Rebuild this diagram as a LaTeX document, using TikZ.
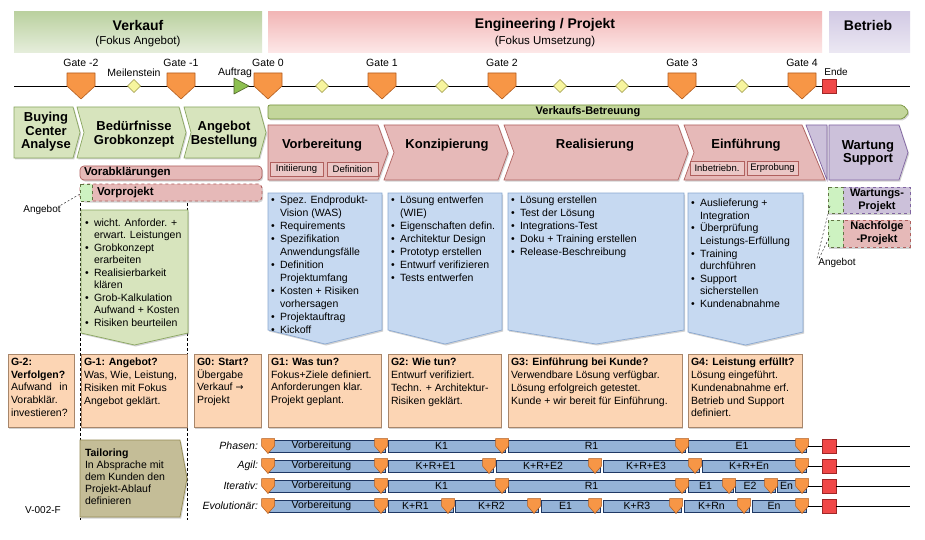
\documentclass[tikz,border=0pt]{standalone}
\usepackage{fontspec}
\setmainfont{Liberation Sans}
\newfontfamily\djv{DejaVu Sans}
\usetikzlibrary{shadows}
\definecolor{hgA}{HTML}{BBD1A0}
\definecolor{hgB}{HTML}{E6EEDC}
\definecolor{hpA}{HTML}{F2B6B6}
\definecolor{hpB}{HTML}{FDE8E8}
\definecolor{hlA}{HTML}{D2CAE4}
\definecolor{hlB}{HTML}{ECE8F3}
\definecolor{grnfill}{HTML}{D7E4BD}
\definecolor{grnline}{HTML}{8AA660}
\definecolor{pinkfill}{HTML}{E6B9B8}
\definecolor{pinkline}{HTML}{B0605E}
\definecolor{bluefill}{HTML}{C6D9F1}
\definecolor{blueline}{HTML}{8AA8D0}
\definecolor{orgfill}{HTML}{FCD5B4}
\definecolor{orgline}{HTML}{A8866A}
\definecolor{lavfill}{HTML}{CCC1DA}
\definecolor{lavline}{HTML}{8064A2}
\definecolor{khaki}{HTML}{C4BD97}
\definecolor{khakiline}{HTML}{948A54}
\definecolor{gatec}{HTML}{F79646}
\definecolor{gateline}{HTML}{B35D1E}
\definecolor{barfill}{HTML}{95B3D7}
\definecolor{barline}{HTML}{1F3864}
\definecolor{vbgreen}{HTML}{C3D69B}
\definecolor{vbline}{HTML}{76923C}
\definecolor{msfill}{HTML}{F7F59E}
\definecolor{msline}{HTML}{9A9645}
\definecolor{endred}{HTML}{F04848}
\definecolor{endline}{HTML}{A02828}
\definecolor{auftrg}{HTML}{8DC050}
\definecolor{auftrl}{HTML}{4F6228}
\newcommand\bu{\makebox[9pt][l]{\textbullet}}
\newcommand\bi{\hspace*{9pt}}
\newcommand\fs[2]{\fontsize{#1}{#2}\selectfont}
\newcommand\lmark[2]{\draw[lmk] (#1-6.5,#2-1.5) -- (#1+6.5,#2-1.5) -- (#1+6.5,#2+6) -- (#1,#2+13.5) -- (#1-6.5,#2+6) -- cycle;}
\newcommand\lane[5]{%
  \node[lanelbl] (#5) at (258,#1+6) {#2};
  \foreach \a/\b/\t [count=\i] in {#3} {
    \path[lanebar] (\a,#1) rectangle (\b,#1+12);
    \node[lanetxt] (#5b\i) at ({(\a+\b-10)/2},#1+6) {\t};
  }
  \foreach \m in {#4} {\lmark{\m}{#1}}
  \coordinate (#5e1) at (808,#1+6);
  \coordinate (#5e2) at (910,#1+6);
  \node[endsq, minimum width=14pt, minimum height=14pt] (#5end) at (829,#1+6) {};
  \draw[line width=0.5pt] (#5e1) -- (#5end.west);
  \draw[line width=0.5pt] (#5end.east) -- (#5e2);
}
\begin{document}
\begin{tikzpicture}[x=1pt,y=-1pt,
  every node/.style={inner sep=0pt,outer sep=0pt},
  hdr/.style={font=\fs{14}{16}\bfseries},
  hdrsub/.style={font=\fs{11.5}{13}},
  gatelbl/.style={font=\fs{10.5}{12}},
  gateshape/.style={fill=gatec, draw=gateline, line width=0.6pt, line join=round},
  msshape/.style={fill=msfill, draw=msline, line width=0.5pt},
  shad/.style={drop shadow={shadow xshift=1.2pt,shadow yshift=-1.5pt,opacity=.35}},
  grnchev/.style={fill=grnfill, draw=grnline, line width=0.7pt, shad},
  pinkchev/.style={fill=pinkfill, draw=pinkline, line width=0.7pt, shad},
  lavchev/.style={fill=lavfill, draw=lavline, line width=0.7pt, shad},
  phtitle/.style={font=\fs{13}{13.5}\bfseries, align=center},
  subbox/.style={fill=pinkfill!80!white, draw=pinkline, line width=0.6pt, font=\fs{9.5}{11}},
  bluebox/.style={fill=bluefill, draw=blueline, line width=0.7pt, shad},
  greenbox/.style={fill=grnfill, draw=grnline, line width=0.7pt, shad},
  btxt/.style={anchor=north west, align=left, font=\fs{10.5}{13}},
  gbox/.style={fill=orgfill, draw=orgline, line width=0.6pt, shad},
  gtxt/.style={anchor=north west, align=left, font=\fs{10.5}{12.8}},
  lanebar/.style={fill=barfill, draw=barline, line width=0.6pt, drop shadow={shadow xshift=1.2pt,shadow yshift=-1.2pt,opacity=.85,fill=barline}},
  lanetxt/.style={font=\fs{10.5}{12}},
  lanelbl/.style={anchor=east, font=\fs{10.5}{12}\itshape},
  lmk/.style={fill=gatec, draw=gateline, line width=0.5pt, line join=round},
  endsq/.style={fill=endred, draw=endline, line width=0.6pt},
  vdash/.style={dashed, line width=0.5pt, dash pattern=on 3pt off 2pt},
]
\useasboundingbox (0,0) rectangle (925,540);
\fill[white] (0,0) rectangle (925,540);

% ---------- header bands
\shade[top color=hgA, bottom color=hgB] (14,12) rectangle (262,53);
\shade[top color=hpA, bottom color=hpB] (268,12) rectangle (822,53);
\shade[top color=hlA, bottom color=hlB] (829,12) rectangle (910,53);
\node[hdr] (verkauf) at (138,25) {Verkauf};
\node[hdrsub] (verkaufsub) at (138,42) {(Fokus Angebot)};
\node[hdr] (eng) at (545,25) {Engineering / Projekt};
\node[hdrsub] (engsub) at (545,42) {(Fokus Umsetzung)};
\node[hdr] (betrieb) at (868,25) {Betrieb};

% ---------- timeline
\coordinate (tl0) at (14,86);
\coordinate (tl1) at (910,86);
\draw[line width=0.6pt] (tl0) -- (tl1);
\foreach \x in {134,322,442,560,622,742} {
  \draw[msshape] (\x-6.5,86) -- (\x,79.5) -- (\x+6.5,86) -- (\x,92.5) -- cycle;
}
\node[gatelbl] (meil) at (134,73) {Meilenstein};
\draw[fill=auftrg, draw=auftrl, line width=0.6pt, line join=round] (234,78) -- (249,86) -- (234,94) -- cycle;
\node[gatelbl] (auftrag) at (235,73) {Auftrag};
\foreach \x/\t/\n in {81/Gate -2/gm2, 181/Gate -1/gm1, 268/Gate 0/g0, 382/Gate 1/g1, 502/Gate 2/g2, 682/Gate 3/g3, 802/Gate 4/g4} {
  \draw[gateshape] (\x-14,73) -- (\x+14,73) -- (\x+14,86) -- (\x,99) -- (\x-14,86) -- cycle;
  \node[gatelbl] (\n) at (\x,63) {\t};
}
\draw[endsq] (822,79) rectangle (836,93);
\node[gatelbl, font=\fs{10}{12}] (ende) at (836,72) {Ende};

% ---------- vertical dashed lines
\draw[vdash] (80,203) -- (80,520);
\draw[vdash] (187,203) -- (187,520);

% ---------- sales phases (green chevrons)
\path[grnchev] (14,107) -- (73,107) -- (80,132.5) -- (73,158) -- (14,158) -- cycle;
\path[grnchev] (77,107) -- (179,107) -- (186,132.5) -- (179,158) -- (77,158) -- (84,132.5) -- cycle;
\path[grnchev] (184,107) -- (259,107) -- (266,132.5) -- (259,158) -- (184,158) -- (191,132.5) -- cycle;
\node[phtitle] (buying) at (46,132) {Buying\\Center\\Analyse};
\node[phtitle] (beduerf) at (134,134) {Bedürfnisse\\Grobkonzept};
\node[phtitle] (angebot) at (224,134) {Angebot\\Bestellung};

% ---------- Verkaufs-Betreuung
\path[fill=vbgreen, draw=vbline, line width=0.7pt, rounded corners=2pt, shad] (268,105) -- (903,105) -- (909,112) -- (903,119) -- (268,119) -- cycle;
\node[font=\fs{11}{12}\bfseries] (vb) at (588,112) {Verkaufs-Betreuung};

% ---------- project phases
\path[pinkchev] (268,125) -- (378,125) -- (388,152.5) -- (378,180) -- (268,180) -- cycle;
\path[pinkchev] (384,125) -- (498,125) -- (508,152.5) -- (498,180) -- (384,180) -- (394,152.5) -- cycle;
\path[pinkchev] (504,125) -- (678,125) -- (688,152.5) -- (678,180) -- (504,180) -- (514,152.5) -- cycle;
\path[pinkchev] (684,125) -- (802,125) -- (825,180) -- (684,180) -- (694,152.5) -- cycle;
\path[lavchev] (806,125) -- (827,125) -- (827,180) -- cycle;
\path[lavchev] (829,125) -- (899,125) -- (908,152.5) -- (899,180) -- (829,180) -- cycle;
\node[phtitle] (vorb) at (322,145) {Vorbereitung};
\node[phtitle] (konz) at (447,145) {Konzipierung};
\node[phtitle] (real) at (595,145) {Realisierung};
\node[phtitle] (einf) at (746,145) {Einführung};
\node[phtitle] (wart) at (868,153) {Wartung\\Support};
\node[subbox, minimum width=53pt, minimum height=14pt] (init) at (296.5,169) {Initiierung};
\node[subbox, minimum width=51pt, minimum height=14pt] (defi) at (352.5,169) {Definition};
\node[subbox, minimum width=54pt, minimum height=14pt] (inbe) at (717,168) {Inbetriebn.};
\node[subbox, minimum width=51pt, minimum height=14pt] (erpr) at (772.5,168) {Erprobung};

% ---------- Vorabklaerungen / Vorprojekt
\path[fill=pinkfill, draw=pinkline, line width=0.7pt, rounded corners=4pt, shad] (80,166) rectangle (262,180);
\node[anchor=west, font=\fs{11.5}{12}\bfseries] (vorab) at (84,173) {Vorabklärungen};
\path[fill=pinkfill, draw=pinkline, line width=0.9pt, dashed, rounded corners=4pt, shad] (80,184) rectangle (262,201);
\path[fill=grnfill!80!green!60!white, draw=grnline!70!black, line width=0.9pt, dashed] (80,184) rectangle (92,201);
\node[anchor=west, font=\fs{11.5}{12}\bfseries] (vorproj) at (97,192.5) {Vorprojekt};
\node[font=\fs{10}{12}] (angl) at (42,210) {Angebot};
\coordinate (anglc) at (80,194);
\draw[dashed, line width=0.4pt, dash pattern=on 2pt off 2pt] (angl.north east) -- (anglc);

% ---------- Wartungs-/Nachfolge-Projekt
\path[fill=lavfill, draw=lavline, line width=0.9pt, dashed, shad] (828,187) rectangle (910,213);
\path[fill=grnfill!80!green!60!white, draw=grnline!70!black, line width=0.9pt, dashed] (828,187) rectangle (843,213);
\node[font=\fs{11}{13}\bfseries, align=center] (wproj) at (877,200) {Wartungs-\\Projekt};
\path[fill=pinkfill, draw=pinkline, line width=0.9pt, dashed, shad] (828,220) rectangle (910,247);
\path[fill=grnfill!80!green!60!white, draw=grnline!70!black, line width=0.9pt, dashed] (828,220) rectangle (843,247);
\node[font=\fs{11}{13}\bfseries, align=center] (nproj) at (877,233.5) {Nachfolge\\-Projekt};
\node[font=\fs{10}{12}] (angr) at (837,263) {Angebot};
\coordinate (angr1) at (830,206);
\coordinate (angr2) at (830,236);
\draw[dashed, line width=0.4pt, dash pattern=on 2pt off 2pt] ([xshift=-20pt]angr.north) -- (angr1);
\draw[dashed, line width=0.4pt, dash pattern=on 2pt off 2pt] ([xshift=-18pt]angr.north) -- (angr2);

% ---------- activity boxes
\path[greenbox] (81,210) -- (188,210) -- (188,333) -- (134.5,345) -- (81,333) -- cycle;
\node[btxt, font=\fs{10.5}{12.5}] (gtxt) at (85,218.5) {\bu wicht. Anforder. +\\\bi erwart. Leistungen\\\bu Grobkonzept\\\bi erarbeiten\\\bu Realisierbarkeit\\\bi klären\\\bu Grob-Kalkulation\\\bi Aufwand + Kosten\\\bu Risiken beurteilen};

\path[bluebox] (268,193) -- (382,193) -- (382,330) -- (325,344) -- (268,330) -- cycle;
\path[bluebox] (388,193) -- (502,193) -- (502,330) -- (445,344) -- (388,330) -- cycle;
\path[bluebox] (508,193) -- (684,193) -- (684,330) -- (596,344) -- (508,330) -- cycle;
\path[bluebox] (688,193) -- (803,193) -- (803,332) -- (745.5,345) -- (688,332) -- cycle;
\node[btxt] (b1) at (271,196) {\bu Spez. Endprodukt-\\\bi Vision (WAS)\\\bu Requirements\\\bu Spezifikation\\\bi Anwendungsfälle\\\bu Definition\\\bi Projektumfang\\\bu Kosten + Risiken\\\bi vorhersagen\\\bu Projektauftrag\\\bu Kickoff};
\node[btxt] (b2) at (391,196) {\bu Lösung entwerfen\\\bi (WIE)\\\bu Eigenschaften defin.\\\bu Architektur Design\\\bu Prototyp erstellen\\\bu Entwurf verifizieren\\\bu Tests entwerfen};
\node[btxt] (b3) at (511,196) {\bu Lösung erstellen\\\bu Test der Lösung\\\bu Integrations-Test\\\bu Doku + Training erstellen\\\bu Release-Beschreibung};
\node[btxt, font=\fs{10.5}{12.6}] (b4) at (691,199) {\bu Auslieferung +\\\bi Integration\\\bu Überprüfung\\\bi Leistungs-Erfüllung\\\bu Training\\\bi durchführen\\\bu Support\\\bi sicherstellen\\\bu Kundenabnahme};

% ---------- gate boxes
\path[gbox] (8,354) rectangle (74,427);
\path[gbox] (81,354) rectangle (187,427);
\path[gbox] (194,354) rectangle (261,427);
\path[gbox] (268,354) rectangle (381,427);
\path[gbox] (388,354) rectangle (501,427);
\path[gbox] (508,354) rectangle (682,427);
\path[gbox] (688,354) rectangle (802,427);
\node[gtxt] (tgm2) at (11,358) {\textbf{G-2:}\\\textbf{Verfolgen?}\\Aufwand\ \ \,in\\Vorabklär.\\investieren?};
\node[gtxt] (tgm1) at (84,358) {\textbf{G-1: Angebot?}\\Was, Wie, Leistung,\\Risiken mit Fokus\\Angebot geklärt.};
\node[gtxt] (tg0) at (197,358) {\textbf{G0: Start?}\\Übergabe\\Verkauf {\djv\fs{9.5}{12}→}\\Projekt};
\node[gtxt] (tg1) at (271,358) {\textbf{G1: Was tun?}\\Fokus+Ziele definiert.\\Anforderungen klar.\\Projekt geplant.};
\node[gtxt] (tg2) at (391,358) {\textbf{G2: Wie tun?}\\Entwurf verifiziert.\\Techn. + Architektur-\\Risiken geklärt.};
\node[gtxt] (tg3) at (511,358) {\textbf{G3: Einführung bei Kunde?}\\Verwendbare Lösung verfügbar.\\Lösung erfolgreich getestet.\\Kunde + wir bereit für Einführung.};
\node[gtxt] (tg4) at (691,358) {\textbf{G4: Leistung erfüllt?}\\Lösung eingeführt.\\Kundenabnahme erf.\\Betrieb und Support\\definiert.};

% ---------- tailoring
\path[fill=khaki, draw=khakiline, line width=0.7pt, shad] (80,440) -- (180,440) -- (187,478.5) -- (180,517) -- (80,517) -- cycle;
\node[gtxt, font=\fs{10.5}{12.2}] (tail) at (85,448.5) {\textbf{Tailoring}\\In Absprache mit\\dem Kunden den\\Projekt-Ablauf\\definieren};
\node[font=\fs{10}{12}] (vlabel) at (43,510) {V-002-F};

% ---------- lanes
\lane{440}{Phasen:}{268/385/Vorbereitung, 388/505/K1, 508/685/R1, 688/806/E1}{268,381,502,682,802}{lp}
\lane{460}{Agil:}{268/385/Vorbereitung, 388/493/K+R+E1, 496/600/K+R+E2, 603/699/K+R+E3, 702/806/K+R+En}{268,381,489,595,695,802}{la}
\lane{480}{Iterativ:}{268/385/Vorbereitung, 388/505/K1, 508/685/R1, 688/733/E1, 735/775/E2, 777/806/En}{268,381,502,682,729,771,802}{li}
\lane{500}{Evolutionär:}{268/385/Vorbereitung, 388/453/K+R1, 455/538/K+R2, 541/600/E1, 603/681/K+R3, 684/749/K+Rn, 752/806/En}{268,381,448,534,595,676,744,802}{le}
\end{tikzpicture}
\end{document}
